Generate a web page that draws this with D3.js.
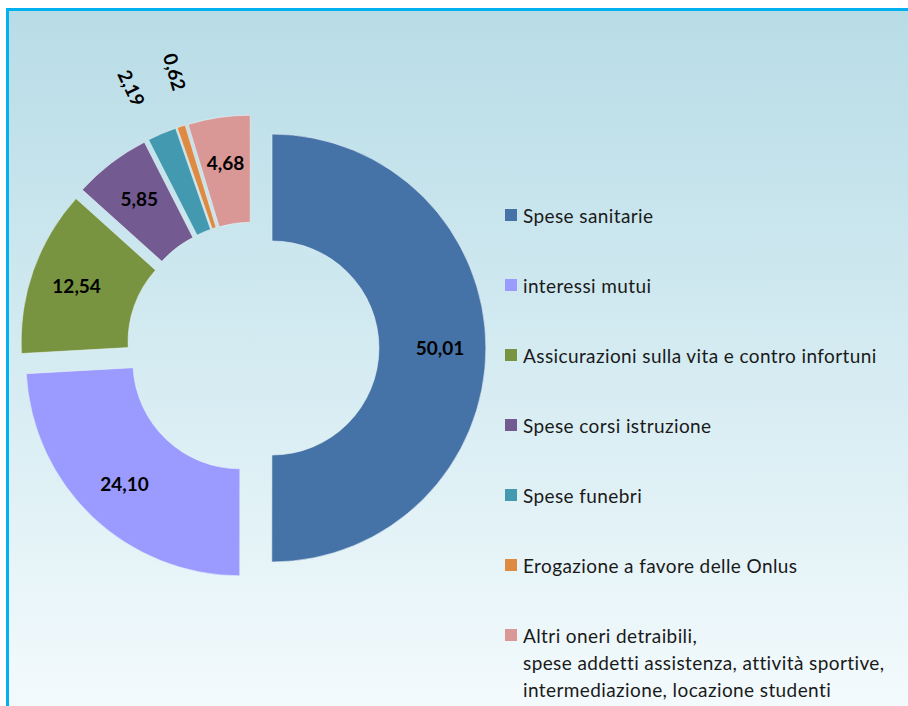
<!DOCTYPE html>
<html>
<head>
<meta charset="utf-8">
<title>Oneri detraibili</title>
<script src="https://d3js.org/d3.v7.min.js"></script>
<style>
  body { margin: 0; background: #fff; }
  svg { display: block; font-family: Lato, "Open Sans", sans-serif; }
</style>
</head>
<body>
<div id="chart"></div>
<script>
// data
var categories = ["Spese sanitarie", "interessi mutui", "Assicurazioni sulla vita e contro infortuni",
                  "Spese corsi istruzione", "Spese funebri", "Erogazione a favore delle Onlus",
                  "Altri oneri detraibili,\nspese addetti assistenza, attività sportive,\nintermediazione, locazione studenti"];
var values = [50.01, 24.10, 12.54, 5.85, 2.19, 0.62, 4.68];
var labels = ["50,01", "24,10", "12,54", "5,85", "2,19", "0,62", "4,68"];
var colors = ["#4673a7", "#9a9aff", "#789440", "#735a91", "#4299b0", "#df8a43", "#d99795"];

var width = 908, height = 706;
var cx = 253, cy = 348, R = 214, r = 107, explode = 19;

var svg = d3.select("#chart").append("svg")
    .attr("width", width)
    .attr("height", height);

// background gradient + frame
var grad = svg.append("defs").append("linearGradient")
    .attr("id", "bg").attr("x1", 0).attr("y1", 0).attr("x2", 0).attr("y2", 1);
grad.append("stop").attr("offset", "0%").attr("stop-color", "#b8dce6");
grad.append("stop").attr("offset", "55%").attr("stop-color", "#d8edf3");
grad.append("stop").attr("offset", "100%").attr("stop-color", "#f5fbfd");

svg.append("rect")
    .attr("x", 7.5).attr("y", 9.5)
    .attr("width", width + 10).attr("height", height + 10)
    .attr("fill", "url(#bg)")
    .attr("stroke", "#00b0f0")
    .attr("stroke-width", 3);

// doughnut
var pie = d3.pie().sort(null).value(function(d) { return d; });
var arcs = pie(values);
var arc = d3.arc().innerRadius(r).outerRadius(R);

var g = svg.append("g").attr("transform", "translate(" + cx + "," + cy + ")");

function mid(d) { return (d.startAngle + d.endAngle) / 2; }
function shift(d) {
  var a = mid(d);
  return [explode * Math.sin(a), -explode * Math.cos(a)];
}

g.selectAll("path.slice")
  .data(arcs)
  .enter().append("path")
    .attr("class", "slice")
    .attr("transform", function(d) { var s = shift(d); return "translate(" + s[0] + "," + s[1] + ")"; })
    .attr("d", arc)
    .attr("fill", function(d, i) { return colors[i]; })
    .attr("stroke", "#e8f4f8")
    .attr("stroke-width", 0.6);

// outside labels for thin slices: spread apart so they don't collide
var small = arcs.filter(function(d) { return d.value < 3; });
var minGap = 9.5 * Math.PI / 180;
small.forEach(function(d) { d.labelAngle = mid(d); });
for (var k = 1; k < small.length; k++) {
  var gap = small[k].labelAngle - small[k - 1].labelAngle;
  if (gap < minGap) {
    var push = (minGap - gap) / 2;
    small[k - 1].labelAngle -= push;
    small[k].labelAngle += push;
  }
}

var labelR = 168, outerR = 268;

g.selectAll("text.val")
  .data(arcs)
  .enter().append("text")
    .attr("class", "val")
    .attr("transform", function(d) {
      var s = shift(d);
      if (d.value < 3) {
        var a = d.labelAngle;
        var x = outerR * Math.sin(a) + s[0], y = -outerR * Math.cos(a) + s[1];
        return "translate(" + x + "," + y + ") rotate(" + (a * 180 / Math.PI - 270) + ")";
      }
      var a2 = mid(d);
      return "translate(" + (labelR * Math.sin(a2) + s[0]) + "," + (-labelR * Math.cos(a2) + s[1]) + ")";
    })
    .attr("text-anchor", "middle")
    .attr("dy", "0.36em")
    .style("font-weight", "bold")
    .style("font-size", "19px")
    .attr("fill", "#000")
    .text(function(d, i) { return labels[i]; });

// legend
var legend = svg.append("g").attr("transform", "translate(505,209)");
var item = legend.selectAll("g.item")
  .data(categories)
  .enter().append("g")
    .attr("class", "item")
    .attr("transform", function(d, i) { return "translate(0," + (i * 70) + ")"; });

item.append("rect")
    .attr("width", 12).attr("height", 12)
    .attr("fill", function(d, i) { return colors[i]; });

item.append("text")
    .attr("x", 18)
    .attr("y", 14)
    .style("font-size", "19px")
    .style("letter-spacing", "0.4px")
    .attr("fill", "#1a1a1a")
    .selectAll("tspan")
    .data(function(d) { return d.split("\n"); })
    .enter().append("tspan")
      .attr("x", 18)
      .attr("dy", function(d, j) { return j === 0 ? 0 : 27; })
      .text(function(d) { return d; });
</script>
</body>
</html>
